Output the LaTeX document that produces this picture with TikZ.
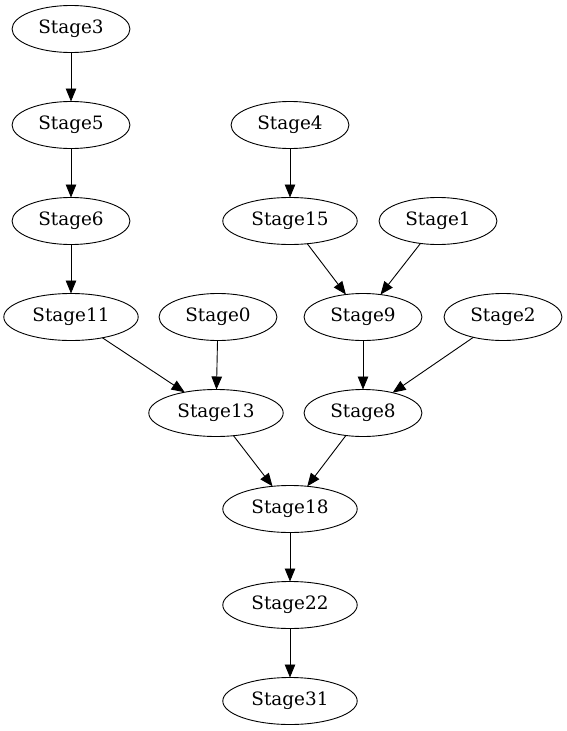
\documentclass[tikz,border=0pt]{standalone}
\usepackage{fontspec}
\setmainfont{DejaVu Serif}
\usetikzlibrary{positioning,shapes.geometric,arrows.meta}
\tikzset{
  stage/.style={draw,ellipse,line width=0.9pt,inner xsep=9pt,inner ysep=0pt,
    outer sep=0pt,minimum height=47pt,text height=13.5pt,text depth=4pt,
    font=\fontsize{18.4pt}{22pt}\selectfont}
}
\begin{document}
\begin{tikzpicture}[every node/.style={stage}]
    \useasboundingbox (0,0) rectangle (567pt,-731pt);
    \node (3) at (71pt,-29pt) {Stage3};
    \node (5) [below = 49pt,at=(3.south)]  {Stage5};
    \node (6) [below = 49pt,at=(5.south)]  {Stage6};
    \node (11) [below = 49pt,at=(6.south)]  {Stage11};
    \node (4) [at=(5), xshift=219pt]  {Stage4};
    \node (15) [below = 49pt,at=(4.south)]  {Stage15};
    \node (1) [at=(15), xshift=148pt]  {Stage1};
    \node (0) [at=(11), xshift=147pt]  {Stage0};
    \node (9) [at=(0), xshift=145pt]  {Stage9};
    \node (2) [at=(9), xshift=140pt]  {Stage2};
    \node (13) [below = 49pt,at=(0.south), xshift=-2pt]  {Stage13};
    \node (8) [below = 49pt,at=(9.south)]  {Stage8};
    \node (18) [below = 49pt,at=(13.south), xshift=74pt]  {Stage18};
    \node (22) [below = 49pt,at=(18.south)]  {Stage22};
    \node (31) [below = 49pt,at=(22.south)]  {Stage31};

    \path[draw,line width=0.9pt,-{Triangle[length=13pt,width=10.5pt]}]
    (3) edge (5)
    (5) edge (6)
    (6) edge (11)
    (4) edge (15)
    (15) edge (9)
    (1) edge (9)
    (11) edge (13)
    (0) edge (13)
    (9) edge (8)
    (2) edge (8)
    (13) edge (18)
    (8) edge (18)
    (18) edge (22)
    (22) edge (31)
    ;
  \end{tikzpicture}
\end{document}
